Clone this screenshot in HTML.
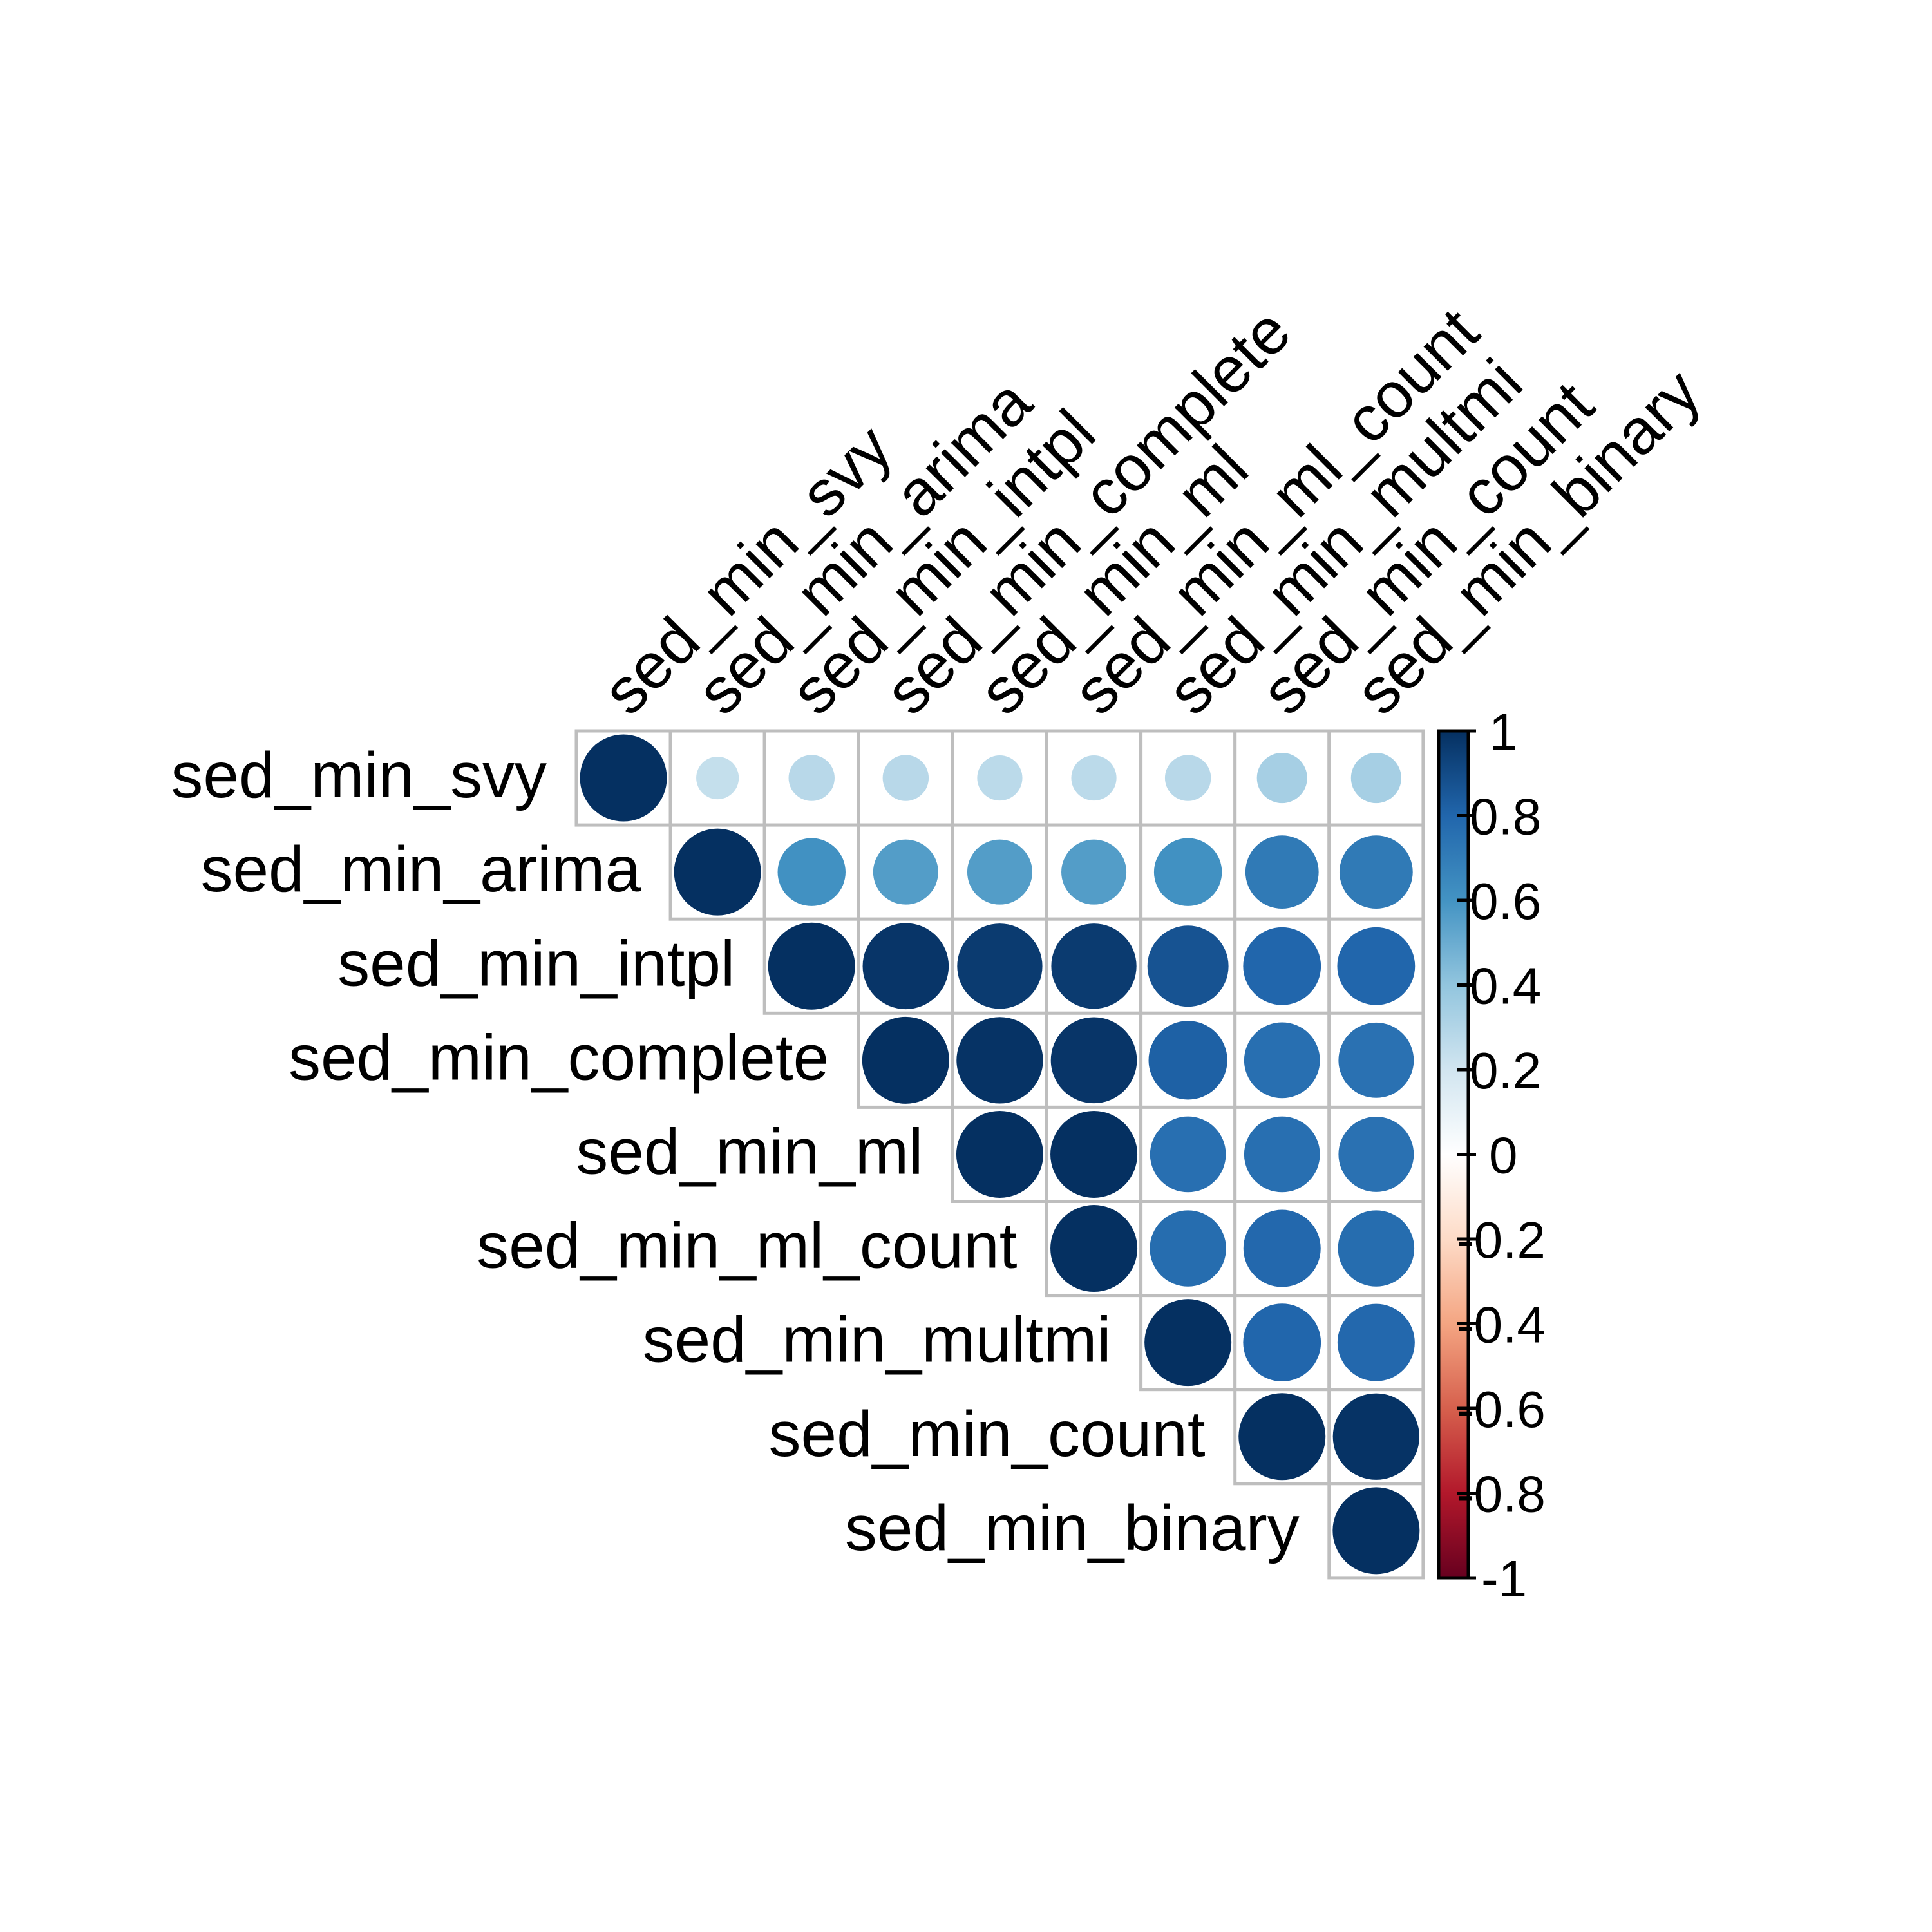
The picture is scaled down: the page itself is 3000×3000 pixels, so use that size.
<!DOCTYPE html>
<html><head><meta charset="utf-8"><style>
html,body{margin:0;padding:0;background:#fff;}
svg{display:block;font-family:"Liberation Sans",Arial,sans-serif;}
</style></head>
<body>
<svg id="chart" width="3000" height="3000" viewBox="0 0 3000 3000" xmlns="http://www.w3.org/2000/svg">
<rect width="3000" height="3000" fill="#fff"/>
<defs>
<linearGradient id="cbgrad" x1="0" y1="1" x2="0" y2="0">
<stop offset="0" stop-color="#67001F"/><stop offset="0.1" stop-color="#B2182B"/><stop offset="0.2" stop-color="#D6604D"/><stop offset="0.3" stop-color="#F4A582"/><stop offset="0.4" stop-color="#FDDBC7"/><stop offset="0.5" stop-color="#FFFFFF"/><stop offset="0.6" stop-color="#D1E5F0"/><stop offset="0.7" stop-color="#92C5DE"/><stop offset="0.8" stop-color="#4393C3"/><stop offset="0.9" stop-color="#2166AC"/><stop offset="1" stop-color="#053061"/>
</linearGradient>
</defs>
<g id="grid"></g>
<g id="circles"></g>
<g id="rowlabels"></g>
<g id="collabels"></g>
<g id="legend">
<rect x="2234" y="1135" width="46" height="1315" fill="url(#cbgrad)" stroke="#000" stroke-width="5"/>
</g>
</svg>
<script>
const variables = ["sed_min_svy","sed_min_arima","sed_min_intpl","sed_min_complete","sed_min_ml","sed_min_ml_count","sed_min_multmi","sed_min_count","sed_min_binary"];
const row0 = [1, 0.24, 0.28, 0.28, 0.27, 0.27, 0.28, 0.335, 0.335];
const row1 = [1, 0.61, 0.56, 0.56, 0.56, 0.61, 0.71, 0.71];
const row2 = [1, 0.98, 0.96, 0.96, 0.87, 0.80, 0.80];
const row3 = [1, 0.99, 0.98, 0.82, 0.76, 0.75];
const row4 = [1, 1.0, 0.76, 0.76, 0.75];
const row5 = [1, 0.77, 0.79, 0.77];
const row6 = [1, 0.80, 0.79];
const row7 = [1, 0.99];
const row8 = [1];
const rows = [row0,row1,row2,row3,row4,row5,row6,row7,row8];
const legendTicks = [1,0.8,0.6,0.4,0.2,0,-0.2,-0.4,-0.6,-0.8,-1];
const legendLabels = ["1","0.8","0.6","0.4","0.2","0","-0.2","-0.4","-0.6","-0.8","-1"];

const NS="http://www.w3.org/2000/svg";
const X0=895, Y0=1135, C=146.1, RMAX=67.5;
const xOf=i=>X0+C*i, yOf=i=>Y0+C*i;
const stops=["#67001F","#B2182B","#D6604D","#F4A582","#FDDBC7","#FFFFFF","#D1E5F0","#92C5DE","#4393C3","#2166AC","#053061"];
function hex(h){return [1,3,5].map(k=>parseInt(h.substr(k,2),16));}
function colorOf(v){const t=(v+1)/2*10;let i=Math.min(9,Math.floor(t));const f=t-i;const a=hex(stops[i]),b=hex(stops[i+1]);return "rgb("+a.map((c,k)=>Math.round(c+(b[k]-c)*f)).join(",")+")";}
function mk(tag,attrs,parent){const e=document.createElementNS(NS,tag);for(const k in attrs)e.setAttribute(k,attrs[k]);parent.appendChild(e);return e;}

const grid=document.getElementById('grid'), circ=document.getElementById('circles');
const rl=document.getElementById('rowlabels'), cl=document.getElementById('collabels'), lg=document.getElementById('legend');
rows.forEach((vals,i)=>{
  vals.forEach((v,k)=>{
    const j=i+k;
    const cell=mk('rect',{x:xOf(j),y:yOf(i),width:C,height:C,fill:'#fff',stroke:'#bebebe','stroke-width':5},grid);
    
    
    const c=mk('circle',{cx:xOf(j)+C/2,cy:yOf(i)+C/2,r:RMAX*Math.sqrt(Math.abs(v)),fill:colorOf(v)},circ);
    
    
  });
});
variables.forEach((name,i)=>{
  const t=mk('text',{x:xOf(i)-46,y:yOf(i)+C/2+30,'font-size':100,'text-anchor':'end',fill:'#000'},rl);
  t.textContent=name;
  
  
  const ax=xOf(i)+C/2+10, ay=Y0-20;
  const u=mk('text',{x:ax,y:ay,'font-size':100,fill:'#000',transform:'rotate(-45 '+ax+' '+ay+')'},cl);
  u.textContent=name;
  
  
});
const LT=1135, LB=2450;
const ly=v=>LB-(v+1)/2*(LB-LT);
legendTicks.forEach((v,k)=>{
  const tk=mk('line',{x1:2262,x2:2292,y1:ly(v),y2:ly(v),stroke:'#000','stroke-width':5},lg);
  
  
  const lab=legendLabels[k];
  let x=2282;
  if(lab==="1"||lab==="0") x=2312;
  if(lab==="-1") x=2300;
  if(lab.startsWith("-0")) x=2262;
  const t=mk('text',{x:x,y:ly(v)+29,'font-size':80,fill:'#000'},lg);
  t.textContent=lab;
  
  
});
</script>
</body></html>
